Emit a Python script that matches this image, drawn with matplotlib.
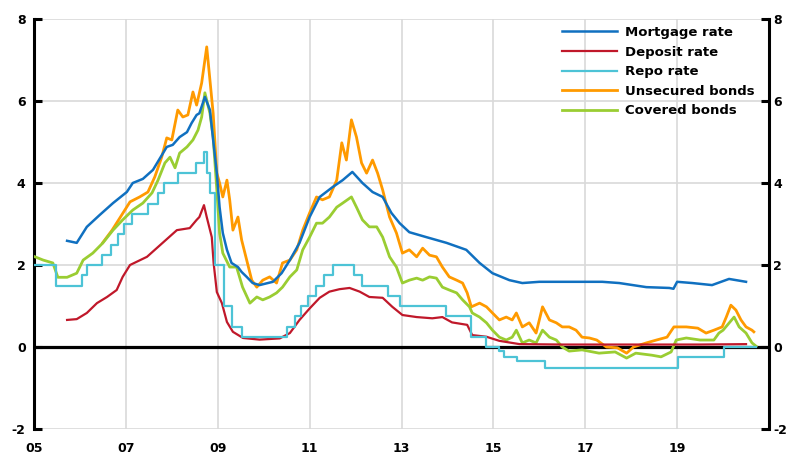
import matplotlib
matplotlib.use("Agg")
import matplotlib.pyplot as plt

# Repo rate: change dates and levels (step series)
repo_x = [2005.00, 2005.47, 2006.05, 2006.16, 2006.47, 2006.67, 2006.82, 2006.97,
          2007.14, 2007.49, 2007.70, 2007.83, 2008.14, 2008.52, 2008.69, 2008.77,
          2008.83, 2008.94, 2009.13, 2009.32, 2009.52, 2010.51, 2010.69, 2010.82,
          2010.97, 2011.14, 2011.32, 2011.51, 2011.97, 2012.14, 2012.70, 2012.97,
          2013.96, 2014.52, 2014.83, 2015.13, 2015.23, 2015.52, 2016.13, 2019.02,
          2020.02, 2020.72]
repo_y = [2.00, 1.50, 1.75, 2.00, 2.25, 2.50, 2.75, 3.00,
          3.25, 3.50, 3.75, 4.00, 4.25, 4.50, 4.75, 4.25,
          3.75, 2.00, 1.00, 0.50, 0.25, 0.50, 0.75, 1.00,
          1.25, 1.50, 1.75, 2.00, 1.75, 1.50, 1.25, 1.00,
          0.75, 0.25, 0.00, -0.10, -0.25, -0.35, -0.50, -0.25,
          0.00, 0.00]

mort_x = [2005.72, 2005.93, 2006.15, 2006.43, 2006.72, 2007.02, 2007.15, 2007.37,
          2007.59, 2007.74, 2007.89, 2008.02, 2008.17, 2008.33, 2008.43, 2008.54,
          2008.60, 2008.72, 2008.83, 2008.90, 2008.98, 2009.04, 2009.11, 2009.20,
          2009.30, 2009.44, 2009.52, 2009.63, 2009.76, 2009.91, 2010.20, 2010.39,
          2010.57, 2010.78, 2011.00, 2011.22, 2011.50, 2011.72, 2011.93, 2012.15,
          2012.37, 2012.59, 2012.78, 2012.96, 2013.17, 2013.54, 2013.98, 2014.41,
          2014.70, 2014.98, 2015.35, 2015.63, 2016.00, 2016.65, 2017.37, 2017.74,
          2018.33, 2018.83, 2018.92, 2019.00, 2019.33, 2019.76, 2020.13, 2020.50]
mort_y = [2.59, 2.54, 2.93, 3.22, 3.51, 3.78, 4.00, 4.10,
          4.32, 4.60, 4.88, 4.93, 5.12, 5.24, 5.46, 5.66,
          5.70, 6.10, 5.78, 5.05, 4.24, 3.41, 2.78, 2.37,
          2.05, 1.95, 1.83, 1.71, 1.56, 1.51, 1.59, 1.80,
          2.12, 2.54, 3.17, 3.66, 3.90, 4.07, 4.27, 4.00,
          3.78, 3.66, 3.27, 3.02, 2.80, 2.68, 2.54, 2.37,
          2.05, 1.80, 1.63, 1.56, 1.59, 1.59, 1.59, 1.56,
          1.46, 1.44, 1.42, 1.59, 1.56, 1.51, 1.66, 1.59]

dep_x = [2005.72, 2005.93, 2006.15, 2006.37, 2006.59, 2006.80, 2006.93, 2007.09,
         2007.46, 2007.80, 2008.11, 2008.39, 2008.54, 2008.60, 2008.70, 2008.76,
         2008.87, 2008.91, 2008.98, 2009.09, 2009.20, 2009.33, 2009.55, 2009.91,
         2010.35, 2010.57, 2010.78, 2011.00, 2011.22, 2011.43, 2011.65, 2011.87,
         2012.09, 2012.30, 2012.59, 2012.80, 2013.02, 2013.33, 2013.67, 2013.89,
         2014.10, 2014.43, 2014.54, 2014.85, 2015.13, 2015.57, 2016.50, 2018.00,
         2019.50, 2020.50]
dep_y = [0.66, 0.68, 0.83, 1.07, 1.22, 1.39, 1.71, 2.00,
         2.20, 2.54, 2.85, 2.90, 3.10, 3.17, 3.46, 3.17,
         2.68, 2.05, 1.34, 1.07, 0.61, 0.37, 0.22, 0.18,
         0.21, 0.34, 0.66, 0.94, 1.20, 1.35, 1.41, 1.44,
         1.35, 1.22, 1.20, 0.98, 0.78, 0.73, 0.70, 0.73,
         0.60, 0.54, 0.29, 0.25, 0.15, 0.07, 0.06, 0.06,
         0.06, 0.07]

uns_x = [2006.50, 2006.70, 2006.87, 2007.09, 2007.30, 2007.48, 2007.63, 2007.78,
         2007.89, 2008.00, 2008.13, 2008.24, 2008.35, 2008.46, 2008.54, 2008.65,
         2008.76, 2008.83, 2008.90, 2008.98, 2009.04, 2009.11, 2009.20, 2009.26,
         2009.33, 2009.44, 2009.52, 2009.63, 2009.74, 2009.85, 2009.98, 2010.13,
         2010.28, 2010.41, 2010.57, 2010.72, 2010.85, 2011.00, 2011.15, 2011.28,
         2011.43, 2011.59, 2011.70, 2011.80, 2011.91, 2012.02, 2012.13, 2012.24,
         2012.37, 2012.48, 2012.59, 2012.74, 2012.89, 2013.02, 2013.17, 2013.33,
         2013.46, 2013.61, 2013.76, 2013.89, 2014.04, 2014.20, 2014.33, 2014.43,
         2014.52, 2014.70, 2014.85, 2014.98, 2015.13, 2015.28, 2015.41, 2015.50,
         2015.63, 2015.78, 2015.93, 2016.07, 2016.22, 2016.37, 2016.50, 2016.65,
         2016.80, 2016.93, 2017.09, 2017.25, 2017.46, 2017.70, 2017.90, 2018.05,
         2018.33, 2018.55, 2018.78, 2018.93, 2019.20, 2019.45, 2019.63, 2019.80,
         2019.98, 2020.07, 2020.17, 2020.28, 2020.39, 2020.50, 2020.63, 2020.67]
uns_y = [2.55, 2.85, 3.15, 3.54, 3.66, 3.78, 4.15, 4.63,
         5.10, 5.05, 5.78, 5.61, 5.66, 6.22, 5.90, 6.44,
         7.32, 6.51, 5.70, 4.24, 4.00, 3.66, 4.07, 3.59,
         2.85, 3.17, 2.61, 2.12, 1.63, 1.46, 1.63, 1.71,
         1.56, 2.05, 2.12, 2.37, 2.85, 3.27, 3.66, 3.59,
         3.66, 4.07, 4.98, 4.56, 5.54, 5.12, 4.49, 4.24,
         4.56, 4.24, 3.83, 3.17, 2.78, 2.29, 2.37, 2.20,
         2.41, 2.24, 2.20, 1.95, 1.71, 1.63, 1.56, 1.32,
         0.98, 1.07, 0.98, 0.83, 0.66, 0.73, 0.66, 0.83,
         0.49, 0.59, 0.34, 0.98, 0.66, 0.59, 0.49, 0.49,
         0.41, 0.24, 0.22, 0.17, 0.00, -0.02, -0.15, 0.00,
         0.10, 0.17, 0.24, 0.49, 0.49, 0.46, 0.34, 0.41,
         0.49, 0.73, 1.02, 0.90, 0.66, 0.49, 0.41, 0.37]

cov_x = [2005.02, 2005.20, 2005.41, 2005.52, 2005.72, 2005.93, 2006.07, 2006.28,
         2006.50, 2006.72, 2006.93, 2007.15, 2007.37, 2007.57, 2007.70, 2007.85,
         2007.96, 2008.07, 2008.17, 2008.33, 2008.46, 2008.57, 2008.65, 2008.72,
         2008.83, 2008.90, 2008.98, 2009.04, 2009.11, 2009.26, 2009.41, 2009.54,
         2009.70, 2009.85, 2009.98, 2010.13, 2010.28, 2010.41, 2010.57, 2010.72,
         2010.85, 2011.00, 2011.15, 2011.28, 2011.43, 2011.59, 2011.72, 2011.91,
         2012.02, 2012.15, 2012.30, 2012.46, 2012.59, 2012.74, 2012.89, 2013.02,
         2013.17, 2013.33, 2013.46, 2013.61, 2013.76, 2013.89, 2014.04, 2014.20,
         2014.33, 2014.48, 2014.54, 2014.70, 2014.85, 2014.98, 2015.13, 2015.28,
         2015.41, 2015.50, 2015.63, 2015.78, 2015.93, 2016.07, 2016.22, 2016.37,
         2016.50, 2016.65, 2016.93, 2017.30, 2017.65, 2017.90, 2018.10, 2018.45,
         2018.65, 2018.87, 2018.98, 2019.20, 2019.50, 2019.80, 2019.91, 2020.00,
         2020.24, 2020.35, 2020.50, 2020.63, 2020.72]
cov_y = [2.20, 2.12, 2.05, 1.70, 1.70, 1.80, 2.12, 2.29,
         2.54, 2.85, 3.10, 3.34, 3.51, 3.76, 4.07, 4.49,
         4.63, 4.37, 4.73, 4.88, 5.05, 5.29, 5.61, 6.20,
         5.70, 5.12, 3.83, 2.78, 2.29, 1.95, 1.95, 1.46,
         1.07, 1.22, 1.15, 1.22, 1.32, 1.46, 1.71, 1.88,
         2.37, 2.68, 3.02, 3.02, 3.17, 3.41, 3.51, 3.66,
         3.41, 3.10, 2.93, 2.93, 2.68, 2.20, 1.95, 1.56,
         1.63, 1.68, 1.63, 1.71, 1.68, 1.46, 1.39, 1.32,
         1.15, 0.98, 0.83, 0.73, 0.59, 0.41, 0.24, 0.17,
         0.24, 0.41, 0.10, 0.17, 0.10, 0.41, 0.24, 0.17,
         0.00, -0.10, -0.07, -0.15, -0.12, -0.27, -0.15, -0.20,
         -0.24, -0.12, 0.17, 0.22, 0.17, 0.17, 0.34, 0.41,
         0.73, 0.49, 0.34, 0.10, 0.02]

year_ticks = [2005, 2007, 2009, 2011, 2013, 2015, 2017, 2019]
year_labels = ["05", "07", "09", "11", "13", "15", "17", "19"]
y_ticks = [-2, 0, 2, 4, 6, 8]

fig = plt.figure(figsize=(7.91, 4.57), dpi=100)
ax = fig.add_axes([34 / 791, 1 - 429 / 457, (769 - 34) / 791, (429 - 19) / 457])
ax2 = ax.twinx()

ax.axhline(0, color="black", lw=2.3, zorder=1.5)
ax.plot(uns_x, uns_y, color="#FF9A00", lw=2.0, label="Unsecured bonds", zorder=2)
ax.plot(cov_x, cov_y, color="#9ACD32", lw=2.0, label="Covered bonds", zorder=3)
ax.plot(dep_x, dep_y, color="#C0182A", lw=1.6, label="Deposit rate", zorder=4)
ax.step(repo_x, repo_y, where="post", color="#4DC3D6", lw=1.6, label="Repo rate", zorder=4)
ax.plot(mort_x, mort_y, color="#1070C0", lw=1.8, label="Mortgage rate", zorder=5)

for a in (ax, ax2):
    a.set_xlim(2005, 2021)
    a.set_ylim(-2, 8)
    a.set_yticks(y_ticks)
    a.spines["top"].set_visible(False)
    a.spines["bottom"].set_visible(False)

ax.spines["left"].set_linewidth(2.2)
ax.spines["right"].set_visible(False)
ax2.spines["left"].set_visible(False)
ax2.spines["right"].set_linewidth(2.2)

ax.set_xticks(year_ticks)
ax.set_xticklabels(year_labels, fontsize=9, fontweight="bold")
ax.tick_params(axis="x", length=0, pad=9)
ax.tick_params(axis="y", direction="in", length=6, width=2.2, labelsize=9, pad=6)
ax2.tick_params(axis="y", direction="in", length=6, width=2.2, labelsize=9, pad=3)
ax.set_yticklabels([str(v) for v in y_ticks], fontweight="bold")
ax2.set_yticklabels([str(v) for v in y_ticks], fontweight="bold")

ax.grid(True, color="#d9d9d9", lw=1.2, zorder=0)
ax.set_axisbelow(True)

handles, labels = ax.get_legend_handles_labels()
order = ["Mortgage rate", "Deposit rate", "Repo rate", "Unsecured bonds", "Covered bonds"]
hmap = dict(zip(labels, handles))
leg = ax2.legend([hmap[k] for k in order], order, loc="upper left",
                 bbox_to_anchor=(562 / 791, 1 - 26 / 457), bbox_transform=fig.transFigure,
                 frameon=False, borderpad=0, borderaxespad=0, handlelength=4.2,
                 handletextpad=0.55, labelspacing=0.5,
                 prop={"size": 9.5, "weight": "bold"})

fig.savefig("out.png", dpi=100)
